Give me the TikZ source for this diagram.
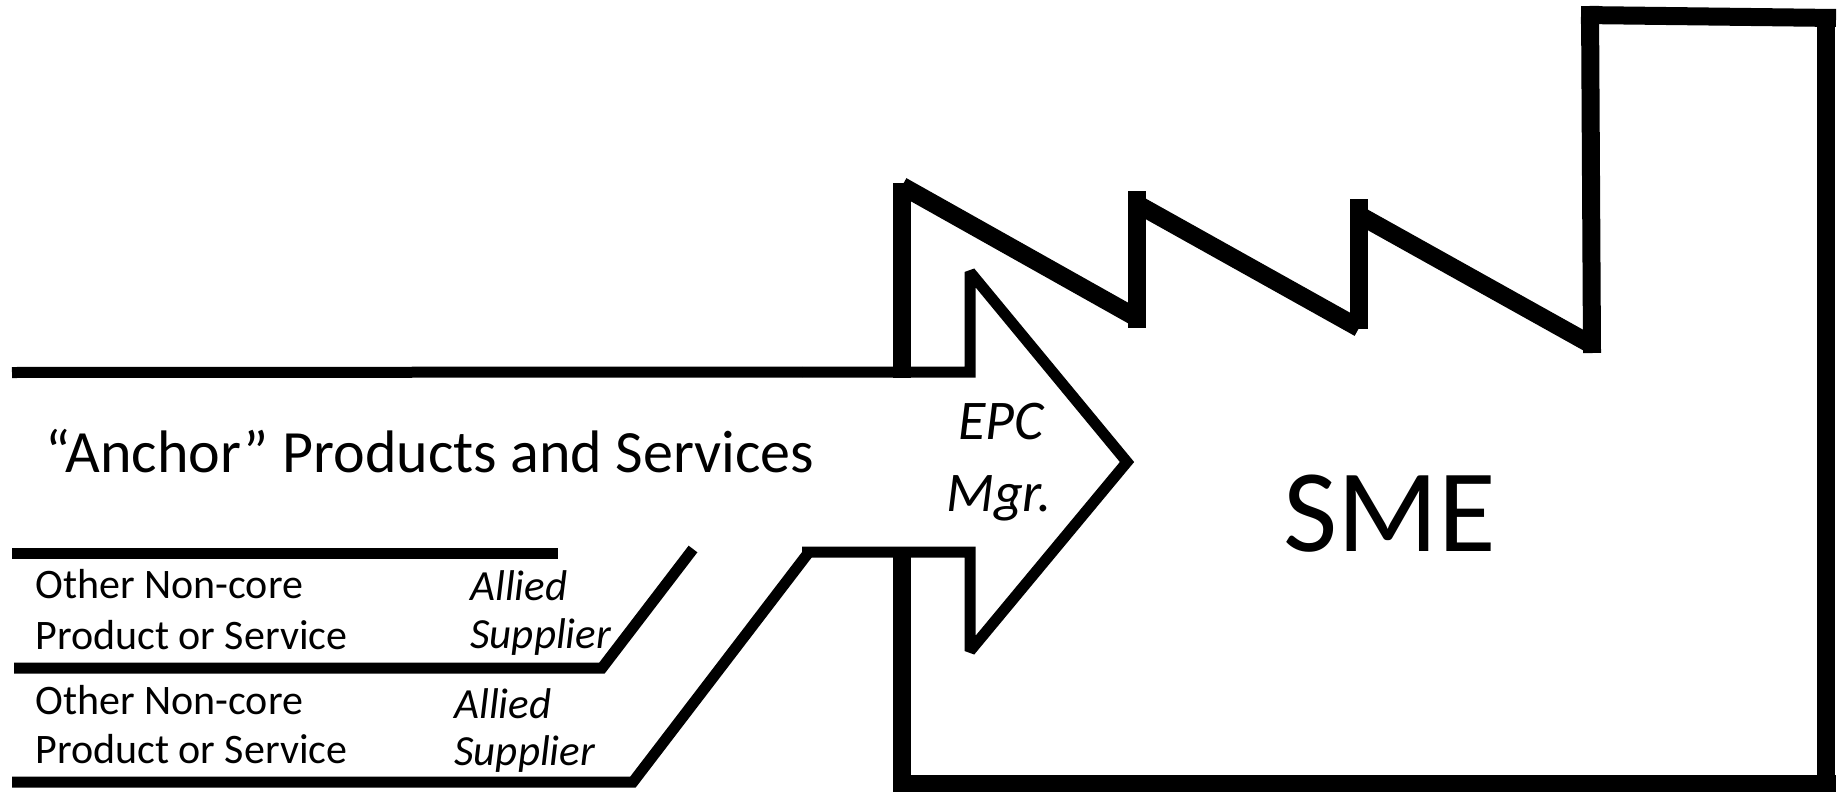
\documentclass[tikz,border=0pt]{standalone}
\usepackage{fontspec}
\setmainfont{Carlito}
\begin{document}
\begin{tikzpicture}[x=0.5pt,y=-0.5pt,
  fac/.style={line width=9pt, line cap=butt},
  arr/.style={line width=5.5pt, line join=miter, miter limit=2},
  side/.style={line width=5.5pt, line join=miter},
  lbl/.style={inner sep=0pt, anchor=base west, font=\fontsize{21}{24}\selectfont},
  ital/.style={inner sep=0pt, anchor=base west, font=\fontsize{21.5}{24}\selectfont\itshape}]
\useasboundingbox (0,0) rectangle (1841,792);
% factory
\draw[fac] (902,183) -- (902,378);
\draw[fac] (902,186) -- (1137,318);
\draw[fac] (1137,191) -- (1137,328);
\draw[fac] (1137,204) -- (1359,328);
\draw[fac] (1359,199) -- (1359,329);
\draw[fac] (1359,215) -- (1592,345);
\draw[fac] (1592,353) -- (1590,6);
\draw[fac] (1581,15) -- (1836,18);
\draw[fac] (1826,9) -- (1826,792);
\draw[fac] (1836,784) -- (893,784);
\draw[fac] (902,557) -- (902,792);
% arrow
\coordinate (a1) at (802,372);
\coordinate (a2) at (802,552);
\draw[arr] (a1) -- (970,372) -- (970,272) -- (1127,462) -- (970,651) -- (970,552) -- (a2);
% side lines
\coordinate (l1) at (12,372.5);
\coordinate (l2a) at (12,553);
\coordinate (l2b) at (558,553);
\coordinate (l3a) at (14,668);
\coordinate (l3b) at (602,668);
\coordinate (l3c) at (693,549);
\coordinate (l4a) at (12,782);
\coordinate (l4b) at (633,782);
\coordinate (l4c) at (809,552);
\draw[side] (l1) -- (a1);
\draw[side] (l2a) -- (l2b);
\draw[side] (l3a) -- (l3b) -- (l3c);
\draw[side] (l4a) -- (l4b) -- (l4c);
% texts
\node[inner sep=0pt, anchor=base west, font=\fontsize{30}{34}\selectfont] (anchor) at (45,472) {“Anchor” Products and Services};
\node[inner sep=0pt, anchor=base, font=\fontsize{28}{32}\selectfont\itshape] (epc) at (1001,439) {EPC};
\node[inner sep=0pt, anchor=base, font=\fontsize{28}{32}\selectfont\itshape] (mgr) at (999,511) {Mgr.};
\node[inner sep=0pt, anchor=base, font=\fontsize{59}{64}\selectfont] (sme) at (1390,551) {SME};
\node[lbl] (o1) at (35,598) {Other Non-core};
\node[lbl] (p1) at (35,649) {Product or Service};
\node[lbl] (o2) at (35,714) {Other Non-core};
\node[lbl] (p2) at (35,763) {Product or Service};
\node[ital] (al1) at (470,600) {Allied};
\node[ital] (su1) at (470,648) {Supplier};
\node[ital] (al2) at (454,718) {Allied};
\node[ital] (su2) at (454,765) {Supplier};
\end{tikzpicture}
\end{document}
